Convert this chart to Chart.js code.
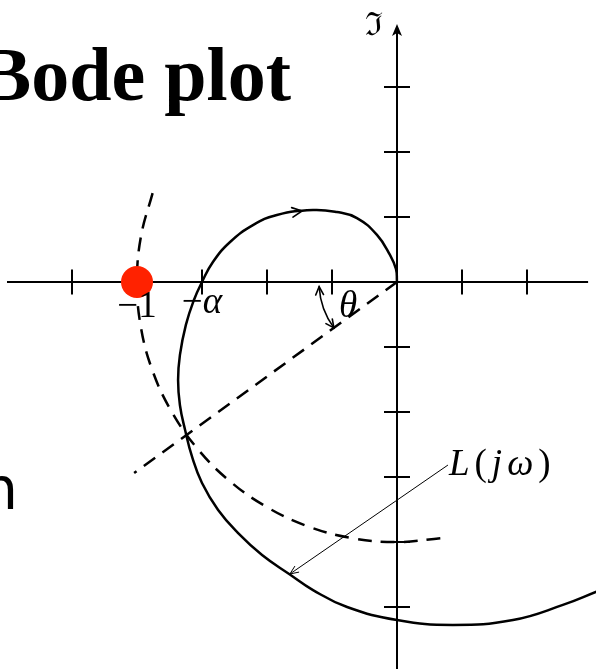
<!DOCTYPE html>
<html>
<head>
<meta charset="utf-8">
<script src="https://cdn.jsdelivr.net/npm/chart.js@4"></script>
<style>
  body { margin: 0; background: #fff; }
  #wrap { width: 596px; height: 669px; position: relative; }
</style>
</head>
<body>
<div id="wrap"><canvas id="nyquist"></canvas></div>
<script>
// Nyquist curve L(jw), real and imaginary parts
const nyquistRe = [0, -0.004, -0.027, -0.077, -0.154, -0.231, -0.323, -0.462, -0.554, -0.642, -0.708,
  -0.75, -0.781, -0.812, -0.835, -0.842, -0.835, -0.815, -0.788, -0.75, -0.688, -0.612, -0.519,
  -0.412, -0.323, -0.192, 0, 0.215, 0.446, 0.638, 0.77];
const nyquistIm = [0, 0.05, 0.104, 0.181, 0.246, 0.269, 0.277, 0.258, 0.219, 0.154, 0.077,
  0, -0.069, -0.165, -0.281, -0.377, -0.473, -0.569, -0.673, -0.773, -0.877, -0.965, -1.05,
  -1.125, -1.185, -1.25, -1.3, -1.319, -1.3, -1.242, -1.19];

// where the direction arrow sits on the curve
const arrowAt = [-0.365, 0.273];

// unit circle arc (dashed)
const circleRe = [-0.940, -0.985, -1, -0.985, -0.940, -0.866, -0.766, -0.643, -0.5, -0.342, -0.174, 0, 0.174];
const circleIm = [0.342, 0.174, 0, -0.174, -0.342, -0.5, -0.643, -0.766, -0.866, -0.940, -0.985, -1, -0.985];

// phase margin ray from the origin
const rayRe = [0, -1.011];
const rayIm = [0, -0.735];

// leader from the L(jw) label to the curve
const leaderRe = [0.196, -0.412];
const leaderIm = [-0.704, -1.123];

const criticalPoint = [-1, 0];
const alphaPoint = -0.75;
const thetaDeg = 36;
const thetaArcRadius = 0.3;

const realTicks = [-1.25, -1, -0.75, -0.5, -0.25, 0.25, 0.5];
const imagTicks = [0.75, 0.5, 0.25, -0.25, -0.5, -0.75, -1, -1.25];
const realAxis = [-1.5, 0.735];
const imagAxis = [-1.49, 0.992];

const toPoints = (re, im) => re.map((v, i) => ({ x: v, y: im[i] }));

const SERIF = '"Liberation Serif", "DejaVu Serif", serif';

// draws a sequence of text pieces with their own fonts
function drawRuns(ctx, runs, x, y, align, gap) {
  gap = gap || 0;
  let total = 0;
  runs.forEach((r, i) => {
    ctx.font = r.f;
    r.w = ctx.measureText(r.t).width;
    total += r.w + (i ? gap : 0);
  });
  let cx = align === "center" ? x - total / 2 : x;
  ctx.textAlign = "left";
  ctx.textBaseline = "alphabetic";
  runs.forEach(r => {
    ctx.font = r.f;
    ctx.fillText(r.t, cx, y);
    cx += r.w + gap;
  });
}

function chevron(ctx, x, y, ang, len, spread) {
  ctx.beginPath();
  ctx.moveTo(x - len * Math.cos(ang - spread), y - len * Math.sin(ang - spread));
  ctx.lineTo(x, y);
  ctx.lineTo(x - len * Math.cos(ang + spread), y - len * Math.sin(ang + spread));
  ctx.stroke();
}

const nyquistDecor = {
  id: "nyquistDecor",
  beforeDatasetsDraw(chart) {
    const { ctx, scales: { x, y } } = chart;
    const ox = x.getPixelForValue(0), oy = y.getPixelForValue(0);
    ctx.save();
    ctx.strokeStyle = "#000";
    ctx.lineWidth = 2;
    // real axis
    ctx.beginPath();
    ctx.moveTo(x.getPixelForValue(realAxis[0]), oy);
    ctx.lineTo(x.getPixelForValue(realAxis[1]), oy);
    ctx.stroke();
    // imaginary axis
    const top = y.getPixelForValue(imagAxis[1]);
    ctx.beginPath();
    ctx.moveTo(ox, y.getPixelForValue(imagAxis[0]));
    ctx.lineTo(ox, top + 6);
    ctx.stroke();
    ctx.fillStyle = "#000";
    ctx.beginPath();
    ctx.moveTo(ox, top);
    ctx.lineTo(ox - 5, top + 12);
    ctx.lineTo(ox, top + 9);
    ctx.lineTo(ox + 5, top + 12);
    ctx.closePath();
    ctx.fill();
    // tick marks
    realTicks.forEach(t => {
      const px = x.getPixelForValue(t);
      ctx.beginPath();
      ctx.moveTo(px, oy - 12.5);
      ctx.lineTo(px, oy + 12.5);
      ctx.stroke();
    });
    imagTicks.forEach(t => {
      const py = y.getPixelForValue(t);
      ctx.beginPath();
      ctx.moveTo(ox - 13, py);
      ctx.lineTo(ox + 13, py);
      ctx.stroke();
    });
    ctx.restore();
  },
  afterDatasetsDraw(chart) {
    const { ctx, scales: { x, y } } = chart;
    const ox = x.getPixelForValue(0), oy = y.getPixelForValue(0);
    ctx.save();
    ctx.strokeStyle = "#000";
    ctx.fillStyle = "#000";
    ctx.lineCap = "round";

    // direction arrow on the curve (points left to right along the top)
    const ax = x.getPixelForValue(arrowAt[0]), ay = y.getPixelForValue(arrowAt[1]);
    const ang = Math.atan2(y.getPixelForValue(nyquistIm[6]) - y.getPixelForValue(nyquistIm[7]),
      x.getPixelForValue(nyquistRe[6]) - x.getPixelForValue(nyquistRe[7]));
    ctx.lineWidth = 1.6;
    chevron(ctx, ax, ay, ang, 11, 0.45);

    // theta arc with arrows at both ends
    const r = x.getPixelForValue(thetaArcRadius) - ox;
    const a0 = Math.PI - thetaDeg * Math.PI / 180;
    const a1 = Math.PI - 0.06;
    ctx.lineWidth = 1.6;
    ctx.beginPath();
    ctx.arc(ox, oy, r, a0, a1);
    ctx.stroke();
    const e1x = ox + r * Math.cos(a1), e1y = oy + r * Math.sin(a1);
    chevron(ctx, e1x, e1y, a1 + Math.PI / 2, 9, 0.45);
    const e0x = ox + r * Math.cos(a0), e0y = oy + r * Math.sin(a0);
    chevron(ctx, e0x, e0y, a0 - Math.PI / 2, 9, 0.45);

    // leader arrowhead
    const lx0 = x.getPixelForValue(leaderRe[0]), ly0 = y.getPixelForValue(leaderIm[0]);
    const lx1 = x.getPixelForValue(leaderRe[1]), ly1 = y.getPixelForValue(leaderIm[1]);
    ctx.lineWidth = 1;
    chevron(ctx, lx1, ly1, Math.atan2(ly1 - ly0, lx1 - lx0), 9, 0.4);

    // labels
    const up = "37px " + SERIF, it = "italic 37px " + SERIF;
    drawRuns(ctx, [{ t: "\u22121", f: up }], x.getPixelForValue(criticalPoint[0]), oy + 35, "center");
    drawRuns(ctx, [{ t: "\u2212", f: up }, { t: "\u03b1", f: it }], x.getPixelForValue(alphaPoint), oy + 31, "center");
    drawRuns(ctx, [{ t: "\u03b8", f: it }], ox - 49, oy + 35, "center");
    drawRuns(ctx, [
      { t: "L", f: it }, { t: "(", f: up }, { t: "j", f: it }, { t: "\u03c9", f: it }, { t: ")", f: up }
    ], lx0 + 1, ly0 + 10, "left", 5);
    drawRuns(ctx, [{ t: "\u2111", f: '32px "DejaVu Serif", serif' }], ox - 23, 35, "center");

    // title and cut-off side text
    ctx.textAlign = "right";
    ctx.font = "bold 76px " + SERIF;
    ctx.fillText("Bode plot", 291, 100);
    ctx.font = '58px "DejaVu Sans", sans-serif';
    ctx.fillText("n", 18, 509);
    ctx.restore();
  }
};

new Chart(document.getElementById("nyquist"), {
  type: "scatter",
  data: {
    datasets: [
      {
        label: "-1",
        data: [{ x: criticalPoint[0], y: criticalPoint[1] }],
        pointRadius: 16,
        pointBackgroundColor: "#ff2200",
        pointBorderWidth: 0,
        order: 0
      },
      {
        label: "L(jw)",
        data: toPoints(nyquistRe, nyquistIm),
        showLine: true,
        borderColor: "#000",
        borderWidth: 2.5,
        tension: 0.45,
        pointRadius: 0,
        order: 1
      },
      {
        label: "unit circle",
        data: toPoints(circleRe, circleIm),
        showLine: true,
        borderColor: "#000",
        borderWidth: 2.5,
        borderDash: [14, 9],
        tension: 0.4,
        pointRadius: 0,
        order: 2
      },
      {
        label: "theta",
        data: toPoints(rayRe, rayIm),
        showLine: true,
        borderColor: "#000",
        borderWidth: 2.5,
        borderDash: [14, 9],
        pointRadius: 0,
        order: 3
      },
      {
        label: "leader",
        data: toPoints(leaderRe, leaderIm),
        showLine: true,
        borderColor: "#000",
        borderWidth: 1,
        pointRadius: 0,
        order: 4
      }
    ]
  },
  options: {
    responsive: true,
    maintainAspectRatio: false,
    animation: false,
    devicePixelRatio: 1,
    layout: { padding: 0, autoPadding: false },
    plugins: { legend: { display: false }, tooltip: { enabled: false } },
    scales: {
      x: { type: "linear", min: -397 / 260, max: 199 / 260, display: false },
      y: { type: "linear", min: -387 / 260, max: 282 / 260, display: false }
    }
  },
  plugins: [nyquistDecor]
});
</script>
</body>
</html>
